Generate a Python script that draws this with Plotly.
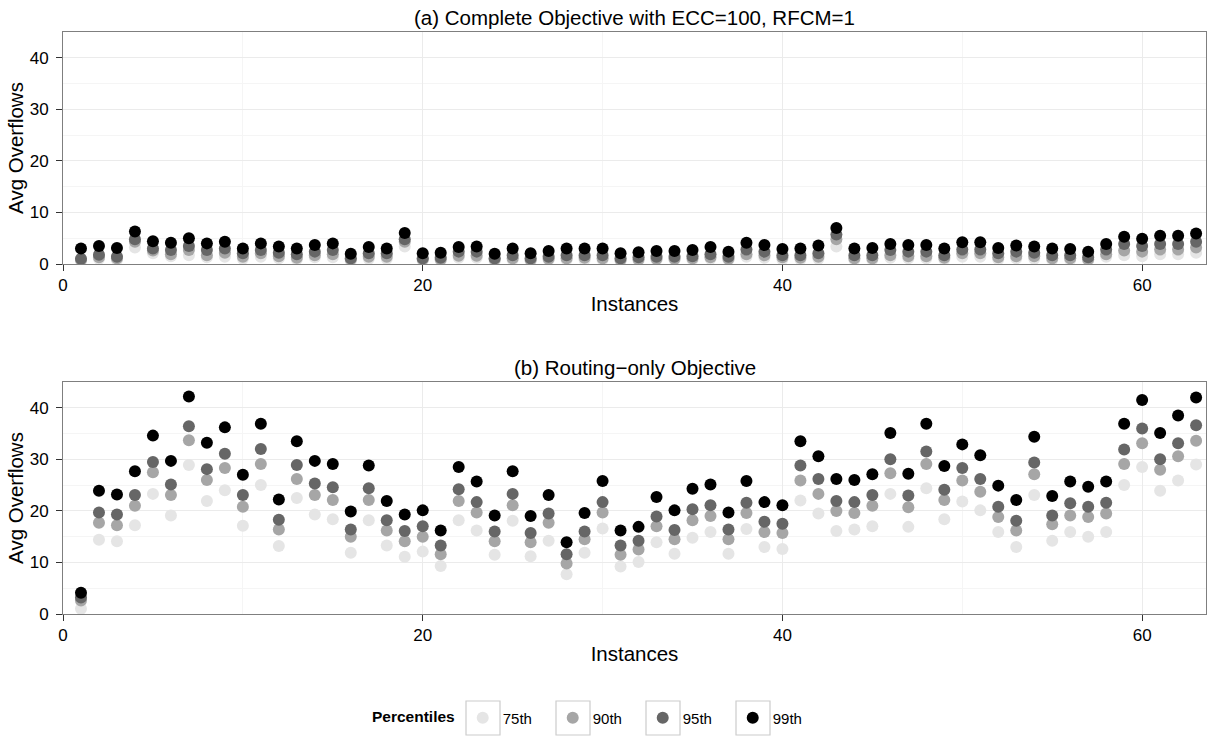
import plotly.graph_objects as go

instances = list(range(1, 64))

top_p75 = [0.6, 1.0, 0.8, 3.2, 2.1, 1.5, 1.7, 1.3, 1.4, 1.0, 1.4, 1.1, 0.9, 1.3, 1.3, 0.6, 1.0, 1.0, 3.4, 0.7,
           0.7, 1.2, 1.2, 0.6, 0.8, 0.6, 0.8, 0.8, 0.8, 0.8, 0.6, 0.7, 0.8, 0.8, 0.8, 1.0, 0.8, 1.4, 1.2, 0.9,
           0.9, 1.0, 3.4, 0.8, 0.8, 1.2, 1.1, 1.1, 0.9, 1.4, 1.4, 0.9, 1.1, 1.0, 0.8, 0.8, 0.7, 1.4, 1.7, 1.5,
           1.9, 1.9, 2.2]
top_p90 = [0.8, 1.3, 1.1, 4.3, 2.6, 1.9, 2.7, 1.7, 2.2, 1.4, 2.1, 1.5, 1.2, 1.7, 1.9, 0.9, 1.4, 1.4, 4.3, 0.9,
           0.9, 1.6, 1.6, 0.9, 1.1, 0.8, 1.0, 1.1, 1.2, 1.1, 0.8, 0.9, 1.0, 1.0, 1.1, 1.3, 1.0, 1.9, 1.7, 1.3,
           1.2, 1.4, 4.8, 1.1, 1.1, 1.7, 1.5, 1.5, 1.2, 2.1, 2.1, 1.3, 1.5, 1.5, 1.1, 1.1, 0.9, 1.9, 2.6, 2.4,
           2.8, 2.8, 3.2]
top_p95 = [1.0, 1.8, 1.4, 4.8, 3.0, 2.7, 3.5, 2.7, 3.0, 2.1, 2.7, 2.2, 1.9, 2.4, 2.7, 1.1, 2.1, 2.1, 4.8, 1.1,
           1.2, 2.4, 2.4, 1.1, 1.7, 1.1, 1.4, 1.7, 1.7, 1.7, 1.1, 1.3, 1.4, 1.4, 1.5, 1.9, 1.4, 2.8, 2.4, 1.7,
           1.7, 2.1, 5.7, 1.7, 1.7, 2.7, 2.4, 2.4, 1.7, 2.8, 2.8, 2.1, 2.4, 2.2, 1.7, 1.7, 1.3, 2.8, 3.9, 3.5,
           3.9, 3.9, 4.3]
top_p99 = [3.0, 3.5, 3.1, 6.3, 4.4, 4.1, 5.0, 4.0, 4.3, 3.0, 4.0, 3.4, 3.0, 3.7, 4.0, 2.0, 3.3, 3.0, 6.0, 2.1,
           2.2, 3.3, 3.4, 2.0, 3.0, 2.1, 2.5, 3.0, 3.0, 3.0, 2.1, 2.3, 2.5, 2.5, 2.7, 3.3, 2.4, 4.1, 3.7, 2.9,
           3.0, 3.6, 7.0, 3.0, 3.1, 3.9, 3.7, 3.7, 3.0, 4.2, 4.2, 3.1, 3.6, 3.4, 3.0, 2.9, 2.4, 3.9, 5.3, 4.9,
           5.5, 5.5, 5.9]

bot_p75 = [1.0, 14.4, 14.1, 17.2, 23.3, 19.1, 28.9, 21.9, 24.0, 17.1, 25.0, 13.2, 22.5, 19.3, 18.4, 11.9, 18.2,
           13.3, 11.1, 12.1, 9.3, 18.2, 16.2, 11.5, 18.1, 11.2, 14.2, 7.7, 11.9, 16.6, 9.2, 10.1, 13.9, 11.7,
           14.8, 15.9, 11.7, 16.5, 13.0, 12.6, 22.0, 19.5, 16.1, 16.4, 17.0, 23.3, 16.9, 24.4, 18.4, 21.8, 20.1,
           15.9, 13.0, 23.1, 14.2, 15.9, 15.0, 15.9, 25.0, 28.5, 23.9, 25.9, 29.0]
bot_p90 = [2.6, 17.7, 17.2, 21.0, 27.5, 23.1, 33.7, 26.0, 28.3, 20.8, 29.1, 16.4, 26.2, 23.1, 22.1, 15.0, 22.1,
           16.2, 14.1, 15.0, 11.6, 21.9, 19.7, 14.1, 21.1, 13.9, 17.7, 9.8, 14.5, 19.7, 11.5, 12.5, 17.0, 14.5,
           18.2, 19.0, 14.5, 19.6, 15.9, 15.7, 25.9, 23.3, 20.0, 19.6, 21.0, 27.3, 20.7, 29.1, 22.1, 25.9, 23.7,
           18.8, 16.2, 27.1, 17.4, 19.1, 18.8, 19.5, 29.1, 33.1, 28.0, 30.6, 33.6]
bot_p95 = [3.2, 19.7, 19.3, 23.1, 29.5, 25.1, 36.4, 28.1, 31.1, 23.1, 32.0, 18.3, 28.9, 25.3, 24.6, 16.4, 24.4,
           18.2, 16.1, 17.0, 13.3, 24.2, 21.7, 16.0, 23.3, 15.7, 19.5, 11.6, 16.0, 21.7, 13.3, 14.2, 18.9, 16.3,
           20.3, 21.1, 16.4, 21.6, 17.9, 17.5, 28.8, 26.2, 21.9, 21.7, 23.1, 30.0, 23.0, 31.5, 24.1, 28.3, 26.2,
           20.8, 18.1, 29.4, 19.1, 21.5, 20.8, 21.6, 31.9, 36.0, 30.0, 33.1, 36.6]
bot_p99 = [4.1, 23.9, 23.2, 27.7, 34.6, 29.7, 42.2, 33.2, 36.2, 27.0, 36.9, 22.2, 33.5, 29.7, 29.1, 19.9, 28.8,
           21.9, 19.3, 20.1, 16.2, 28.5, 25.7, 19.1, 27.7, 19.0, 23.1, 13.9, 19.6, 25.8, 16.2, 16.9, 22.7, 20.1,
           24.3, 25.1, 19.7, 25.8, 21.7, 21.1, 33.5, 30.6, 26.2, 26.0, 27.1, 35.1, 27.2, 36.9, 28.7, 32.9, 30.8,
           24.9, 22.1, 34.4, 22.9, 25.7, 24.7, 25.7, 36.9, 41.5, 35.1, 38.5, 42.0]

labels = ["75th", "90th", "95th", "99th"]
colors = ["#e5e5e5", "#a6a6a6", "#666666", "#000000"]
top_series = [top_p75, top_p90, top_p95, top_p99]
bot_series = [bot_p75, bot_p90, bot_p95, bot_p99]

FONT = "Liberation Sans, Arial, Helvetica, sans-serif"

fig = go.Figure()
for lab, col, ys in zip(labels, colors, top_series):
    fig.add_trace(go.Scatter(x=instances, y=ys, mode="markers", name=lab, legendgroup=lab,
                             marker=dict(color=col, size=12, line=dict(width=0)),
                             xaxis="x", yaxis="y", showlegend=True))
for lab, col, ys in zip(labels, colors, bot_series):
    fig.add_trace(go.Scatter(x=instances, y=ys, mode="markers", name=lab, legendgroup=lab,
                             marker=dict(color=col, size=12, line=dict(width=0)),
                             xaxis="x2", yaxis="y2", showlegend=False))

H, W = 738, 1209
mt, mb, ml, mr = 32, 124, 63, 3
ph = H - mt - mb
pw = W - ml - mr
top_dom = [(614 - 264) / ph, 1.0]
bot_dom = [0.0, (614 - 382) / ph]

def px_x(p):
    return (p - ml) / pw

def px_y(p):
    return (H - mb - p) / ph

def xax(anchor):
    return dict(domain=[0, 1], anchor=anchor, range=[0, 63.55], tickvals=[0, 20, 40, 60],
                showgrid=True, gridcolor="#ebebeb", gridwidth=1,
                minor=dict(tickvals=[10, 30, 50], showgrid=True, gridcolor="#f5f5f5", ticks=""),
                zeroline=False, showline=True, mirror=True, linecolor="#7f7f7f", linewidth=1,
                ticks="outside", ticklen=6, tickcolor="#333333", tickwidth=1,
                tickfont=dict(size=17, color="black", family=FONT),
                title=dict(text="Instances", font=dict(size=20.5, color="black", family=FONT), standoff=2),
                automargin=False)

def yax(anchor, dom):
    return dict(domain=dom, anchor=anchor, range=[0, 45], tickvals=[0, 10, 20, 30, 40],
                showgrid=True, gridcolor="#ebebeb", gridwidth=1,
                minor=dict(tickvals=[5, 15, 25, 35], showgrid=True, gridcolor="#f5f5f5", ticks=""),
                zeroline=False, showline=True, mirror=True, linecolor="#7f7f7f", linewidth=1,
                ticks="outside", ticklen=6, tickcolor="#333333", tickwidth=1,
                tickfont=dict(size=17, color="black", family=FONT), ticklabelstandoff=4,
                title=dict(text="Avg Overflows", font=dict(size=20.5, color="black", family=FONT), standoff=0),
                automargin=False)

# legend placement and key frames (decoration around legend keys)
legend_left_px = 370
first_key_px = legend_left_px + 113
key_step_px = 90
key_cy, key_half = 718, 17
shapes = []
for k in range(len(labels)):
    cx = first_key_px + k * key_step_px
    shapes.append(dict(type="rect", xref="paper", yref="paper",
                       x0=px_x(cx - key_half), x1=px_x(cx + key_half),
                       y0=px_y(key_cy + key_half), y1=px_y(key_cy - key_half),
                       line=dict(color="#cccccc", width=1.2), fillcolor="white", layer="below"))

fig.update_layout(
    width=W, height=H,
    margin=dict(t=mt, b=mb, l=ml, r=mr),
    paper_bgcolor="white", plot_bgcolor="white",
    font=dict(family=FONT, color="black"),
    xaxis=xax("y"), yaxis=yax("x", top_dom),
    xaxis2=xax("y2"), yaxis2=yax("x2", bot_dom),
    legend=dict(orientation="h", x=px_x(legend_left_px), xanchor="left", y=px_y(key_cy), yanchor="middle",
                title=dict(text="<b>Percentiles</b>", side="left", font=dict(size=15.5)),
                font=dict(size=15), itemsizing="trace", entrywidth=key_step_px - 45, entrywidthmode="pixels",
                bgcolor="rgba(0,0,0,0)"),
    shapes=shapes,
    annotations=[
        dict(text="(a) Complete Objective with ECC=100, RFCM=1", x=0.5, y=top_dom[1], xref="paper", yref="paper",
             xanchor="center", yanchor="bottom", yshift=1, showarrow=False, font=dict(size=20.5, color="black")),
        dict(text="(b) Routing\u2212only Objective", x=0.5, y=bot_dom[1], xref="paper", yref="paper",
             xanchor="center", yanchor="bottom", yshift=1, showarrow=False, font=dict(size=20.5, color="black")),
    ],
)

fig.write_html("out.html", config={"displayModeBar": False},
               post_script="document.body.style.margin='0px';document.body.style.padding='0px';")
